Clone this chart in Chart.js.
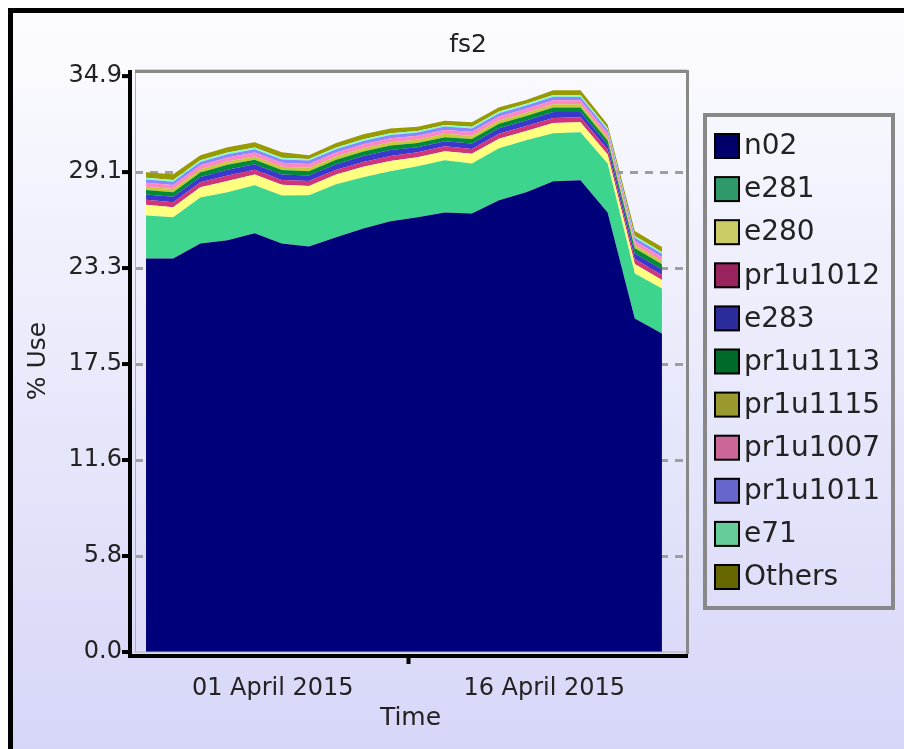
<!DOCTYPE html>
<html>
<head>
<meta charset="utf-8">
<title>fs2</title>
<script src="https://cdn.jsdelivr.net/npm/chart.js@4.4.1/dist/chart.umd.min.js"></script>
<style>
  html, body { margin: 0; padding: 0; background: #fff; overflow: hidden; }
  canvas { display: block; }
</style>
</head>
<body>
<canvas id="fsChart" width="904" height="749"></canvas>
<script>
// sample times, in days from 01 April 2015
const sampleDays = [-7, -5.5, -4, -2.5, -1, 0.5, 2, 3.5, 5, 6.5, 8, 9.5, 11, 12.5, 14, 15.5, 17, 18.5, 20, 21.5];

const seriesNames = ['n02', 'e281', 'e280', 'pr1u1012', 'e283', 'pr1u1113', 'pr1u1115', 'pr1u1007', 'pr1u1011', 'e71', 'Others'];

// % use per series, stacked bottom to top
const n02      = [23.85, 23.85, 24.76, 24.95, 25.37, 24.76, 24.58, 25.13, 25.67, 26.10, 26.34, 26.64, 26.58, 27.37, 27.86, 28.53, 28.59, 26.64, 20.21, 19.30];
const e281     = [2.61, 2.49, 2.79, 2.91, 2.91, 2.91, 3.10, 3.22, 3.10, 3.03, 3.10, 3.16, 3.03, 3.16, 3.16, 2.91, 2.91, 2.97, 2.73, 2.73];
const e280     = [0.64, 0.62, 0.61, 0.68, 0.65, 0.64, 0.56, 0.58, 0.63, 0.63, 0.55, 0.55, 0.58, 0.58, 0.56, 0.62, 0.60, 0.54, 0.58, 0.52];
const pr1u1012 = [0.30, 0.30, 0.30, 0.33, 0.30, 0.30, 0.30, 0.30, 0.30, 0.30, 0.30, 0.30, 0.30, 0.30, 0.30, 0.30, 0.30, 0.30, 0.30, 0.30];
const e283     = [0.33, 0.33, 0.33, 0.36, 0.33, 0.33, 0.33, 0.33, 0.36, 0.36, 0.30, 0.30, 0.33, 0.33, 0.33, 0.36, 0.33, 0.30, 0.33, 0.33];
const pr1u1113 = [0.27, 0.27, 0.27, 0.30, 0.27, 0.27, 0.27, 0.27, 0.27, 0.27, 0.25, 0.25, 0.27, 0.27, 0.27, 0.27, 0.27, 0.25, 0.32, 0.32];
const pr1u1115 = [0.20, 0.20, 0.20, 0.20, 0.20, 0.20, 0.20, 0.20, 0.20, 0.20, 0.20, 0.20, 0.20, 0.20, 0.20, 0.20, 0.20, 0.20, 0.20, 0.20];
const pr1u1007 = [0.24, 0.24, 0.24, 0.24, 0.24, 0.24, 0.24, 0.24, 0.24, 0.24, 0.24, 0.24, 0.24, 0.24, 0.24, 0.24, 0.24, 0.24, 0.24, 0.24];
const pr1u1011 = [0.20, 0.20, 0.20, 0.20, 0.20, 0.20, 0.20, 0.20, 0.20, 0.20, 0.20, 0.20, 0.20, 0.20, 0.20, 0.22, 0.20, 0.20, 0.20, 0.20];
const e71      = [0.10, 0.10, 0.10, 0.10, 0.10, 0.10, 0.10, 0.10, 0.10, 0.10, 0.10, 0.10, 0.10, 0.10, 0.10, 0.10, 0.10, 0.10, 0.10, 0.10];
const others   = [0.33, 0.35, 0.30, 0.32, 0.32, 0.33, 0.23, 0.27, 0.30, 0.30, 0.25, 0.25, 0.27, 0.27, 0.23, 0.30, 0.31, 0.22, 0.30, 0.30];

const seriesValues = [n02, e281, e280, pr1u1012, e283, pr1u1113, pr1u1115, pr1u1007, pr1u1011, e71, others];

const xTickDays = [0, 7.5, 15];
const xTickLabels = ['01 April 2015', '', '16 April 2015'];
const yTickValues = [0, 5.8167, 11.6333, 17.45, 23.2667, 29.0833, 34.9];
const yTickLabels = ['0.0', '5.8', '11.6', '17.5', '23.3', '29.1', '34.9'];

// area fills and the darker legend swatches
const areaColors = ['#00007a', '#3dd58d', '#ffff80', '#d0347a', '#3838cc', '#008a36', '#c8c83c', '#ff88c4', '#8888ff', '#88ffc8', '#999900'];
const swatchColors = ['#00006a', '#2e9a6a', '#cccc66', '#99245e', '#2b2b9b', '#006a2a', '#999930', '#cc6699', '#6666cc', '#66cc99', '#666600'];

const FONT = 'DejaVu Sans';

function pageGradient(ctx, height) {
    const bg = ctx.createLinearGradient(0, 0, 0, height);
    bg.addColorStop(0, '#fdfdff');
    bg.addColorStop(1, '#d6d6f8');
    return bg;
}

const frame = {
    id: 'frame',
    beforeDraw(chart) {
        const { ctx, width, height } = chart;
        ctx.save();
        ctx.fillStyle = '#ffffff';
        ctx.fillRect(0, 0, width, height);
        ctx.fillStyle = pageGradient(ctx, height);
        ctx.fillRect(8, 8, width - 8, height - 8);
        ctx.fillStyle = '#000';
        ctx.fillRect(8, 8, width - 8, 5);
        ctx.fillRect(8, 8, 5, height - 8);

        // title
        ctx.fillStyle = '#222';
        ctx.font = '25px "' + FONT + '"';
        ctx.textAlign = 'center';
        ctx.textBaseline = 'middle';
        ctx.fillText('fs2', 468, 45);
        ctx.restore();
    },
    afterDraw(chart) {
        const { ctx, chartArea: a, scales, width, height } = chart;
        ctx.save();
        // plot border
        ctx.strokeStyle = '#b0b0b0';
        ctx.lineWidth = 1;
        ctx.strokeRect(a.left + 0.5, a.top, a.right - a.left, a.bottom - a.top);
        ctx.strokeStyle = '#888';
        ctx.lineWidth = 3;
        ctx.beginPath();
        ctx.moveTo(a.left, a.top + 1.5);
        ctx.lineTo(a.right + 1.5, a.top + 1.5);
        ctx.lineTo(a.right + 1.5, a.bottom + 2);
        ctx.stroke();

        // axis lines, offset from the plot
        ctx.fillStyle = '#000';
        ctx.fillRect(a.left - 7, a.top, 4, a.bottom - a.top + 6);
        ctx.fillRect(a.left - 7, a.bottom + 2, a.right - a.left + 9, 4);
        scales.y.ticks.forEach(t => {
            const py = scales.y.getPixelForValue(t.value);
            ctx.fillRect(a.left - 13, py - 2, 8, 4);
        });
        const mx = scales.x.getPixelForValue(xTickDays[1]);
        ctx.fillRect(mx - 2, a.bottom + 4, 4, 8);

        // legend
        ctx.strokeStyle = '#888';
        ctx.lineWidth = 4;
        ctx.strokeRect(705, 115, 188, 493);
        ctx.font = '28px "' + FONT + '"';
        ctx.textAlign = 'left';
        ctx.textBaseline = 'middle';
        seriesNames.forEach((name, i) => {
            const cy = 146 + i * 43.1;
            ctx.fillStyle = swatchColors[i];
            ctx.fillRect(715, cy - 12, 24, 24);
            ctx.strokeStyle = '#000';
            ctx.lineWidth = 2;
            ctx.strokeRect(715, cy - 12, 24, 24);
            ctx.fillStyle = '#222';
            ctx.fillText(name, 744, cy + 1);
        });

        // keep the right edge open (no frame line there)
        ctx.fillStyle = pageGradient(ctx, height);
        ctx.fillRect(897, 13, width - 897, height - 13);
        ctx.restore();
    }
};

const datasets = seriesNames.map((name, i) => ({
    label: name,
    data: sampleDays.map((d, j) => ({ x: d, y: seriesValues[i][j] })),
    backgroundColor: areaColors[i],
    borderWidth: 0,
    pointRadius: 0,
    pointHoverRadius: 0,
    fill: i === 0 ? 'origin' : '-1',
    tension: 0
}));

new Chart(document.getElementById('fsChart'), {
    type: 'line',
    data: { datasets },
    plugins: [frame],
    options: {
        responsive: false,
        animation: false,
        layout: { padding: { left: 0, right: 218, top: 70, bottom: 0 } },
        plugins: {
            legend: { display: false },
            title: { display: false },
            tooltip: { enabled: false }
        },
        scales: {
            x: {
                type: 'linear',
                min: -7.61,
                max: 22.83,
                afterBuildTicks: s => { s.ticks = xTickDays.map(v => ({ value: v })); },
                afterFit: s => { s.height = 97; },
                grid: { display: false, drawTicks: false },
                border: { display: false },
                ticks: {
                    autoSkip: false,
                    maxRotation: 0,
                    padding: 22,
                    color: '#222',
                    font: { family: FONT, size: 24 },
                    callback: (v, i) => xTickLabels[i]
                },
                title: {
                    display: true,
                    text: 'Time',
                    color: '#222',
                    font: { family: FONT, size: 25 },
                    padding: { top: 0, bottom: 16 }
                }
            },
            y: {
                stacked: true,
                min: 0,
                max: 35.27,
                afterBuildTicks: s => { s.ticks = yTickValues.map(v => ({ value: v })); },
                afterFit: s => { s.width = 135; },
                grid: {
                    drawTicks: false,
                    lineWidth: 3,
                    // no dashed line on the first and last tick
                    color: c => (c.tick && (c.tick.value === 34.9 || c.tick.value === 0)) ? 'rgba(0,0,0,0)' : '#9e9e9e'
                },
                border: { display: false, dash: [8, 7] },
                ticks: {
                    padding: 13,
                    color: '#222',
                    font: { family: FONT, size: 24 },
                    callback: (v, i) => yTickLabels[i]
                },
                title: {
                    display: true,
                    text: '% Use',
                    color: '#222',
                    font: { family: FONT, size: 25 },
                    padding: { top: 23, bottom: 0 }
                }
            }
        }
    }
});
</script>
</body>
</html>
